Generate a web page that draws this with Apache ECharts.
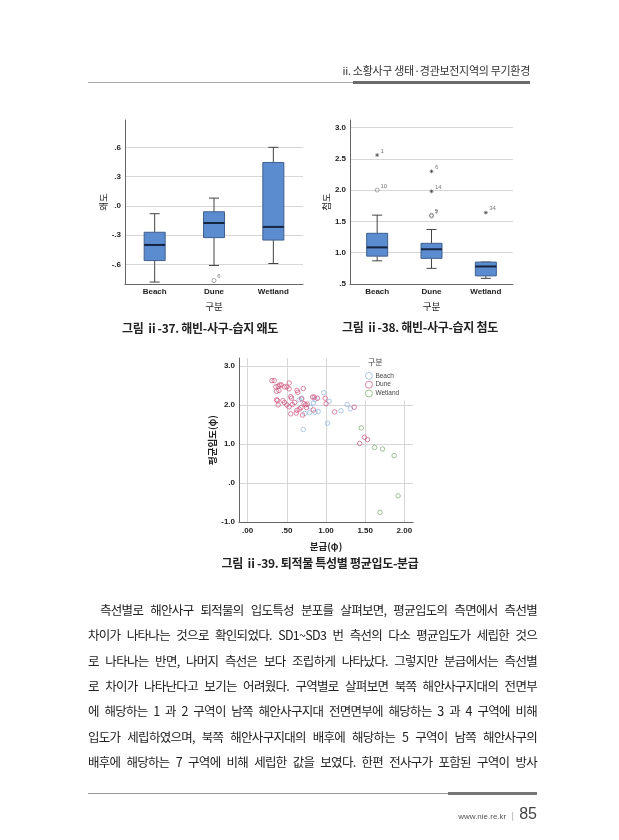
<!DOCTYPE html>
<html>
<head>
<meta charset="utf-8">
<script src="https://cdn.jsdelivr.net/npm/echarts@6/dist/echarts.min.js"></script>
<style>
html, body { margin: 0; padding: 0; background: #fff; }
#page { position: relative; width: 619px; height: 840px; overflow: hidden; font-family: "Noto Sans CJK KR", sans-serif; color: #222; }
#chart { position: absolute; left: 0; top: 0; width: 619px; height: 840px; }
.abs { position: absolute; }
.cap { position: absolute; width: 240px; text-align: center; font-size: 12px; font-weight: 700; letter-spacing: -0.3px; color: #222; }
.line { position: absolute; left: 88px; width: 449px; height: 18px; line-height: 18px; font-size: 12.5px; letter-spacing: -0.7px; text-align: justify; text-align-last: justify; color: #222; }
</style>
</head>
<body>
<div id="page">
  <div id="chart"></div>

  <!-- 머리말 -->
  <div class="abs" style="right:89px; top:62px; font-size:11px; letter-spacing:-0.3px; color:#333;">ii. 소황사구 생태·경관보전지역의 무기환경</div>
  <div class="abs" style="left:88px; top:82px; width:265px; height:1px; background:#aaa;"></div>
  <div class="abs" style="left:353px; top:81px; width:177px; height:3px; background:#6b6b6b;"></div>

  <!-- 그림 제목 -->
  <div class="cap" style="left:80px; top:319px;">그림 ⅱ-37. 해빈-사구-습지 왜도</div>
  <div class="cap" style="left:300px; top:318px;">그림 ⅱ-38. 해빈-사구-습지 첨도</div>
  <div class="cap" style="left:190px; top:554px; width:260px;">그림 ⅱ-39. 퇴적물 특성별 평균입도-분급</div>

  <!-- 본문 -->
  <div class="line" style="top:601px; left:100px; width:437px;">측선별로 해안사구 퇴적물의 입도특성 분포를 살펴보면, 평균입도의 측면에서 측선별</div>
  <div class="line" style="top:626px;">차이가 나타나는 것으로 확인되었다. SD1~SD3 번 측선의 다소 평균입도가 세립한 것으</div>
  <div class="line" style="top:652px;">로 나타나는 반면, 나머지 측선은 보다 조립하게 나타났다. 그렇지만 분급에서는 측선별</div>
  <div class="line" style="top:677px;">로 차이가 나타난다고 보기는 어려웠다. 구역별로 살펴보면 북쪽 해안사구지대의 전면부</div>
  <div class="line" style="top:702px;">에 해당하는 1 과 2 구역이 남쪽 해안사구지대 전면면부에 해당하는 3 과 4 구역에 비해</div>
  <div class="line" style="top:728px;">입도가 세립하였으며, 북쪽 해안사구지대의 배후에 해당하는 5 구역이 남쪽 해안사구의</div>
  <div class="line" style="top:753px;">배후에 해당하는 7 구역에 비해 세립한 값을 보였다. 한편 전사구가 포함된 구역이 방사</div>

  <!-- 꼬리말 -->
  <div class="abs" style="left:88px; top:793px; width:360px; height:1px; background:#999;"></div>
  <div class="abs" style="left:448px; top:792px; width:89px; height:3px; background:#777;"></div>
  <div class="abs" style="right:82px; top:800px; color:#555; white-space:nowrap;">
    <span style="font-size:8px; font-family:'Liberation Sans';">www.nie.re.kr</span>
    <span style="font-size:8px; color:#888;">&nbsp;|&nbsp;</span>
    <span style="font-size:16px; font-family:'Liberation Sans Narrow','Liberation Sans'; color:#444;">85</span>
  </div>
</div>

<script>
var categories = ['Beach', 'Dune', 'Wetland'];

// 왜도 상자그림: [최소, Q1, 중앙값, Q3, 최대]
var skewBox = [
    [-0.78, -0.56, -0.40, -0.27, -0.08],
    [-0.61, -0.325, -0.175, -0.06, 0.08],
    [-0.59, -0.35, -0.215, 0.445, 0.60]
];
var skewOutliers = [[1, -0.765, '6']];
var skewTicks = [-0.6, -0.3, 0, 0.3, 0.6];

// 첨도 상자그림
var kurtBox = [
    [0.87, 0.945, 1.085, 1.31, 1.60],
    [0.75, 0.91, 1.055, 1.15, 1.37],
    [0.59, 0.63, 0.78, 0.85, 0.85]
];
var kurtOutliers = [[0, 2.00, '10'], [1, 1.60, '5'], [1, 1.585, '7']];
var kurtExtremes = [[0, 2.56, '1'], [1, 2.30, '6'], [1, 1.98, '14'], [2, 1.64, '34']];
var kurtTicks = [0.5, 1.0, 1.5, 2.0, 2.5, 3.0];

// 평균입도-분급 산점도: [분급, 평균입도]
var beachPts = [
    [0.97, 2.31], [1.04, 2.09], [0.84, 2.05], [0.86, 2.14], [0.80, 1.95], [0.79, 1.80],
    [0.73, 1.78], [0.90, 1.83], [0.86, 1.81], [0.71, 1.37], [1.02, 1.53], [1.19, 1.85],
    [1.27, 2.01], [1.31, 1.90], [0.66, 2.13], [0.69, 2.17]
];
var dunePts = [
    [0.31, 2.62], [0.34, 2.62], [0.36, 2.46], [0.39, 2.48], [0.41, 2.51], [0.43, 2.51],
    [0.40, 2.37], [0.37, 2.35], [0.37, 2.13], [0.38, 2.11], [0.39, 2.00], [0.47, 2.46],
    [0.50, 2.46], [0.53, 2.56], [0.53, 2.41], [0.45, 2.11], [0.47, 2.06], [0.50, 2.00],
    [0.53, 1.95], [0.55, 1.77], [0.55, 2.21], [0.56, 2.17], [0.57, 2.01], [0.60, 2.06],
    [0.62, 1.79], [0.63, 2.37], [0.64, 2.32], [0.63, 1.86], [0.66, 1.89], [0.68, 1.93],
    [0.69, 2.15], [0.71, 2.42], [0.70, 1.74], [0.72, 2.03], [0.74, 2.00], [0.75, 1.93],
    [0.76, 2.02], [0.83, 2.20], [0.85, 2.20], [0.84, 1.87], [0.89, 2.17], [0.99, 2.17],
    [1.00, 2.03], [1.11, 1.82], [1.36, 1.94], [1.43, 1.01], [1.49, 1.17], [1.53, 1.11]
];
var wetlandPts = [[1.45, 1.41], [1.62, 0.91], [1.72, 0.87], [1.87, 0.70], [1.92, -0.33], [1.69, -0.75]];
var sortTicks = [0, 0.5, 1.0, 1.5, 2.0];
var meanTicks = [-1, 0, 1, 2, 3];

var numFont = 'Liberation Sans';
var korFont = 'Noto Sans CJK KR';

function spssNum(digits) {
    return function (v) {
        var s = Number(v).toFixed(digits);
        return s.replace(/^(-?)0\./, '$1.');
    };
}

function boxItem(params, api) {
    var x = api.value(0);
    var lo = api.coord([x, api.value(1)]);
    var q1 = api.coord([x, api.value(2)]);
    var md = api.coord([x, api.value(3)]);
    var q3 = api.coord([x, api.value(4)]);
    var hi = api.coord([x, api.value(5)]);
    var cx = lo[0], bw = 21, cw = 10;
    var ln = { stroke: '#444', lineWidth: 1 };
    return {
        type: 'group',
        children: [
            { type: 'line', shape: { x1: cx, y1: hi[1], x2: cx, y2: q3[1] }, style: ln },
            { type: 'line', shape: { x1: cx, y1: q1[1], x2: cx, y2: lo[1] }, style: ln },
            { type: 'line', shape: { x1: cx - cw / 2, y1: hi[1], x2: cx + cw / 2, y2: hi[1] }, style: ln },
            { type: 'line', shape: { x1: cx - cw / 2, y1: lo[1], x2: cx + cw / 2, y2: lo[1] }, style: ln },
            { type: 'rect', shape: { x: cx - bw / 2, y: q3[1], width: bw, height: q1[1] - q3[1] },
              style: { fill: '#5b8ccf', stroke: '#3f5f8c', lineWidth: 1 } },
            { type: 'line', shape: { x1: cx - bw / 2, y1: md[1], x2: cx + bw / 2, y2: md[1] },
              style: { stroke: '#15243f', lineWidth: 2 } }
        ]
    };
}

function boxData(stats) {
    return stats.map(function (s, i) { return [i].concat(s); });
}

// 속이 빈 원: 테두리만 그림
function ring(color, width) {
    return { color: 'rgba(255,255,255,0)', borderColor: color, borderWidth: width };
}

var asterisk = 'path://M4,0L4,8M0,4L8,4M1.2,1.2L6.8,6.8M6.8,1.2L1.2,6.8';
var outLabel = {
    show: true, position: 'right', distance: 1, offset: [0, -4],
    fontSize: 6, color: '#555', fontFamily: numFont,
    formatter: function (p) { return p.data[2]; }
};

function catAxis(grid) {
    return {
        type: 'category', gridIndex: grid, data: categories,
        name: '구분', nameLocation: 'middle', nameGap: 18,
        nameTextStyle: { fontSize: 9.5, color: '#222', fontFamily: korFont },
        axisLine: { onZero: false, lineStyle: { color: '#666' } },
        axisTick: { show: false },
        axisLabel: { fontSize: 8, fontWeight: 'bold', color: '#222', fontFamily: numFont, margin: 4 }
    };
}

function valAxis(grid, opts) {
    return {
        type: 'value', gridIndex: grid, min: opts.min, max: opts.max,
        name: opts.name, nameLocation: 'middle', nameRotate: 90, nameGap: opts.nameGap,
        nameTextStyle: { fontSize: 9.5, color: '#222', fontFamily: korFont, fontWeight: opts.bold ? 'bold' : 'normal' },
        axisLine: { show: true, onZero: false, lineStyle: { color: '#666' } },
        axisTick: { show: false, customValues: opts.ticks },
        axisLabel: { customValues: opts.ticks, formatter: spssNum(opts.digits), fontSize: 8,
                     fontWeight: 'bold', color: '#222', fontFamily: numFont, margin: 4 },
        splitLine: { show: true, lineStyle: { color: '#d6d6d6', width: 1 } }
    };
}

var chart = echarts.init(document.getElementById('chart'), null, { renderer: 'canvas' });

var option = {
    animation: false,
    grid: [
        { left: 125, top: 120, width: 178, height: 164 },
        { left: 350, top: 120, width: 163, height: 164 },
        { left: 239, top: 358, width: 174, height: 164 }
    ],
    xAxis: [
        catAxis(0),
        catAxis(1),
        {
            type: 'value', gridIndex: 2, min: -0.11, max: 2.11,
            name: '분급(φ)', nameLocation: 'middle', nameGap: 20,
            nameTextStyle: { fontSize: 9.5, color: '#222', fontFamily: korFont, fontWeight: 'bold' },
            axisLine: { show: true, onZero: false, lineStyle: { color: '#666' } },
            axisTick: { show: false, customValues: sortTicks },
            axisLabel: { customValues: sortTicks, formatter: spssNum(2), fontSize: 8,
                         fontWeight: 'bold', color: '#222', fontFamily: numFont, margin: 5 },
            splitLine: { show: true, lineStyle: { color: '#d6d6d6', width: 1 } }
        }
    ],
    yAxis: [
        valAxis(0, { min: -0.8, max: 0.88, ticks: skewTicks, digits: 1, name: '왜도', nameGap: 17 }),
        valAxis(1, { min: 0.5, max: 3.12, ticks: kurtTicks, digits: 1, name: '첨도', nameGap: 17 }),
        valAxis(2, { min: -1, max: 3.2, ticks: meanTicks, digits: 1, name: '평균입도(φ)', nameGap: 22, bold: true })
    ],
    legend: {
        data: ['Beach', 'Dune', 'Wetland'],
        orient: 'vertical', left: 360, top: 358,
        padding: [14, 24, 3, 5], itemGap: 1, itemWidth: 7, itemHeight: 7,
        icon: 'circle',
        itemStyle: { color: 'rgba(255,255,255,0)', borderWidth: 0.8 },
        backgroundColor: '#fff',
        textStyle: { fontSize: 6.5, color: '#444', fontFamily: numFont, padding: [0, 0, 0, -2] }
    },
    graphic: [
        { type: 'text', left: 368, top: 358, z: 100,
          style: { text: '구분', fontSize: 8, fill: '#444', fontFamily: korFont } }
    ],
    series: [
        { type: 'custom', name: 'skew', xAxisIndex: 0, yAxisIndex: 0, renderItem: boxItem,
          data: boxData(skewBox), encode: { x: 0, y: [1, 2, 3, 4, 5] } },
        { type: 'scatter', name: 'skewOut', xAxisIndex: 0, yAxisIndex: 0, data: skewOutliers,
          symbol: 'circle', symbolSize: 4, itemStyle: ring('#666', 0.7), label: outLabel },

        { type: 'custom', name: 'kurt', xAxisIndex: 1, yAxisIndex: 1, renderItem: boxItem,
          data: boxData(kurtBox), encode: { x: 0, y: [1, 2, 3, 4, 5] } },
        { type: 'scatter', name: 'kurtOut', xAxisIndex: 1, yAxisIndex: 1, data: kurtOutliers,
          symbol: 'circle', symbolSize: 4, itemStyle: ring('#666', 0.7), label: outLabel },
        { type: 'scatter', name: 'kurtExt', xAxisIndex: 1, yAxisIndex: 1, data: kurtExtremes,
          symbol: asterisk, symbolSize: 4,
          itemStyle: { color: 'transparent', borderColor: '#444', borderWidth: 0.8 }, label: outLabel },

        { type: 'scatter', name: 'Beach', xAxisIndex: 2, yAxisIndex: 2, data: beachPts,
          symbol: 'circle', symbolSize: 4.5, itemStyle: ring('#86aadb', 0.8) },
        { type: 'scatter', name: 'Dune', xAxisIndex: 2, yAxisIndex: 2, data: dunePts,
          symbol: 'circle', symbolSize: 4.5, itemStyle: ring('#c94470', 0.8) },
        { type: 'scatter', name: 'Wetland', xAxisIndex: 2, yAxisIndex: 2, data: wetlandPts,
          symbol: 'circle', symbolSize: 4.5, itemStyle: ring('#6a9f58', 0.8) }
    ]
};

chart.setOption(option);
</script>
</body>
</html>
